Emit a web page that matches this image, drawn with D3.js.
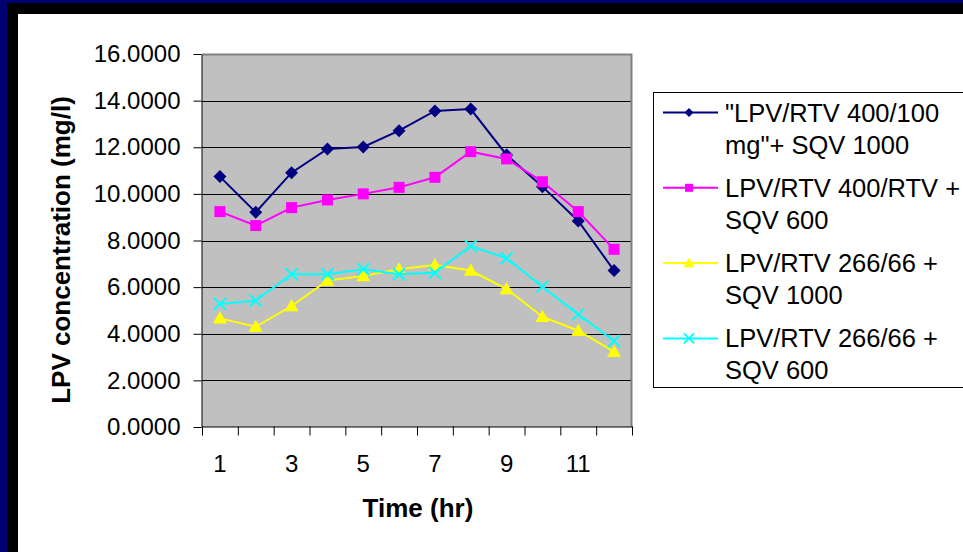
<!DOCTYPE html>
<html>
<head>
<meta charset="utf-8">
<script src="https://cdn.jsdelivr.net/npm/d3@7"></script>
<style>
  html, body { margin: 0; background: #fff; }
  svg { display: block; font-family: "Liberation Sans", Arial, sans-serif; }
</style>
</head>
<body>
<div id="chartDiv"></div>
<script>
// data
var hours = [1, 2, 3, 4, 5, 6, 7, 8, 9, 10, 11, 12];
var seriesNames = [
  ['"LPV/RTV 400/100', 'mg"+ SQV 1000'],
  ["LPV/RTV 400/RTV +", "SQV 600"],
  ["LPV/RTV 266/66 +", "SQV 1000"],
  ["LPV/RTV 266/66 +", "SQV 600"]
];
var lpv400sqv1000 = [10.74, 9.21, 10.91, 11.93, 12.01, 12.71, 13.56, 13.64, 11.67, 10.31, 8.84, 6.71];
var lpv400sqv600  = [9.24, 8.64, 9.41, 9.74, 10.00, 10.28, 10.71, 11.81, 11.50, 10.52, 9.24, 7.62];
var lpv266sqv1000 = [4.66, 4.30, 5.19, 6.28, 6.48, 6.77, 6.95, 6.71, 5.92, 4.73, 4.13, 3.23];
var lpv266sqv600  = [5.28, 5.42, 6.55, 6.55, 6.77, 6.55, 6.62, 7.76, 7.24, 6.02, 4.83, 3.69];
var yTicks = [0, 2, 4, 6, 8, 10, 12, 14, 16];
var xLabels = [1, 3, 5, 7, 9, 11];

var allSeries = [lpv400sqv1000, lpv400sqv600, lpv266sqv1000, lpv266sqv600];
var colors = ["#000080", "#ff00ff", "#ffff00", "#00ffff"];
var shapes = ["diamond", "square", "triangle", "cross"];

var W = 963, H = 552;
var plot = {left: 202, right: 632, top: 54, bottom: 427};

var svg = d3.select("#chartDiv")
  .append("svg")
    .attr("width", W)
    .attr("height", H);

// slide frame (navy + black on the left and top only)
svg.append("rect").attr("width", W).attr("height", H).attr("fill", "#000070");
svg.append("rect").attr("x", 7).attr("y", 3).attr("width", W).attr("height", H).attr("fill", "#000");
svg.append("rect").attr("x", 18).attr("y", 14).attr("width", W).attr("height", H).attr("fill", "#fff");

var xScale = d3.scaleBand()
  .domain(hours)
  .range([plot.left, plot.right]);

var xEdges = d3.scaleLinear()
  .domain([0, hours.length])
  .range([plot.left, plot.right]);

var yScale = d3.scaleLinear()
  .domain([0, 16])
  .range([plot.bottom, plot.top]);

// plot area
svg.append("rect")
  .attr("x", plot.left).attr("y", plot.top)
  .attr("width", plot.right - plot.left)
  .attr("height", plot.bottom - plot.top)
  .attr("fill", "#c0c0c0");

// gridlines
svg.append("g")
  .selectAll("line")
  .data(yTicks.filter(function(d) { return d > 0 && d < 16; }))
  .enter().append("line")
    .attr("x1", plot.left).attr("x2", plot.right)
    .attr("y1", function(d) { return Math.round(yScale(d)) + 0.5; })
    .attr("y2", function(d) { return Math.round(yScale(d)) + 0.5; })
    .attr("stroke", "#000")
    .attr("stroke-width", 1);

// top/right border of plot area
svg.append("path")
  .attr("d", "M" + plot.left + "," + (plot.top + 0.5) + "H" + (plot.right - 0.5) + "V" + plot.bottom)
  .attr("fill", "none")
  .attr("stroke", "#808080")
  .attr("stroke-width", 2);

// Y axis
var yAxis = svg.append("g")
  .attr("transform", "translate(" + (plot.left - 0.5) + ",0)")
  .call(d3.axisLeft(yScale).tickValues(yTicks).tickFormat(d3.format(".4f")).tickSize(8).tickSizeOuter(0).tickPadding(13));
yAxis.selectAll("text")
  .attr("font-size", 24)
  .attr("font-family", "Liberation Sans, Arial, sans-serif")
  .attr("fill", "#000");
yAxis.selectAll("line, path").attr("stroke", "#000");

// X axis: ticks between categories
var xAxis = svg.append("g")
  .attr("transform", "translate(0," + (plot.bottom - 0.5) + ")")
  .call(d3.axisBottom(xEdges).ticks(hours.length).tickFormat("").tickSize(9).tickSizeOuter(0));
xAxis.selectAll("line, path").attr("stroke", "#000");

svg.append("g")
  .selectAll("text")
  .data(xLabels)
  .enter().append("text")
    .attr("x", function(d) { return xScale(d) + xScale.bandwidth() / 2; })
    .attr("y", 472)
    .attr("text-anchor", "middle")
    .attr("font-size", 24)
    .text(function(d) { return d; });

// axis titles
svg.append("text")
  .attr("x", (plot.left + plot.right) / 2 + 1)
  .attr("y", 517)
  .attr("text-anchor", "middle")
  .attr("font-size", 26)
  .attr("font-weight", "bold")
  .text("Time (hr)");

svg.append("text")
  .attr("transform", "translate(70,250) rotate(-90)")
  .attr("text-anchor", "middle")
  .attr("font-size", 26)
  .attr("font-weight", "bold")
  .text("LPV concentration (mg/l)");

// marker shapes
function marker(sel, shape, color, s) {
  if (shape === "diamond") {
    sel.append("path")
      .attr("d", "M0," + (-s) + "L" + s + ",0L0," + s + "L" + (-s) + ",0Z")
      .attr("fill", color);
  } else if (shape === "square") {
    sel.append("rect")
      .attr("x", -s).attr("y", -s).attr("width", 2 * s).attr("height", 2 * s)
      .attr("fill", color);
  } else if (shape === "triangle") {
    sel.append("path")
      .attr("d", "M0," + (-s) + "L" + s + "," + (s * 0.75) + "L" + (-s) + "," + (s * 0.75) + "Z")
      .attr("fill", color);
  } else {
    sel.append("path")
      .attr("d", "M" + (-s) + "," + (-s) + "L" + s + "," + s + "M" + (-s) + "," + s + "L" + s + "," + (-s))
      .attr("stroke", color)
      .attr("stroke-width", 2)
      .attr("fill", "none");
  }
}

var line = d3.line()
  .x(function(d, i) { return xScale(hours[i]) + xScale.bandwidth() / 2; })
  .y(function(d) { return yScale(d); });

var markerSize = [6.5, 5.5, 7, 6];

allSeries.forEach(function(vals, k) {
  var g = svg.append("g");
  g.append("path")
    .attr("d", line(vals))
    .attr("fill", "none")
    .attr("stroke", colors[k])
    .attr("stroke-width", 2);
  g.selectAll("g.pt")
    .data(vals)
    .enter().append("g")
      .attr("class", "pt")
      .attr("transform", function(d, i) {
        return "translate(" + (xScale(hours[i]) + xScale.bandwidth() / 2) + "," + yScale(d) + ")";
      })
      .each(function() { marker(d3.select(this), shapes[k], colors[k], markerSize[k]); });
});

// legend
var legend = svg.append("g");
legend.append("rect")
  .attr("x", 653.5).attr("y", 92.5)
  .attr("width", 330).attr("height", 295)
  .attr("fill", "#fff")
  .attr("stroke", "#000")
  .attr("stroke-width", 1);

var legendSize = [4.5, 4, 5.5, 5];
seriesNames.forEach(function(lines, k) {
  var cy = 112.5 + 75.3 * k;
  var g = legend.append("g");
  g.append("line")
    .attr("x1", 663).attr("x2", 718)
    .attr("y1", cy).attr("y2", cy)
    .attr("stroke", colors[k])
    .attr("stroke-width", 2);
  var m = g.append("g").attr("transform", "translate(689," + cy + ")");
  marker(m, shapes[k], colors[k], legendSize[k]);
  lines.forEach(function(t, j) {
    g.append("text")
      .attr("x", 725)
      .attr("y", cy + 9 + j * 32)
      .attr("font-size", 25.5)
      .text(t);
  });
});
</script>
</body>
</html>
